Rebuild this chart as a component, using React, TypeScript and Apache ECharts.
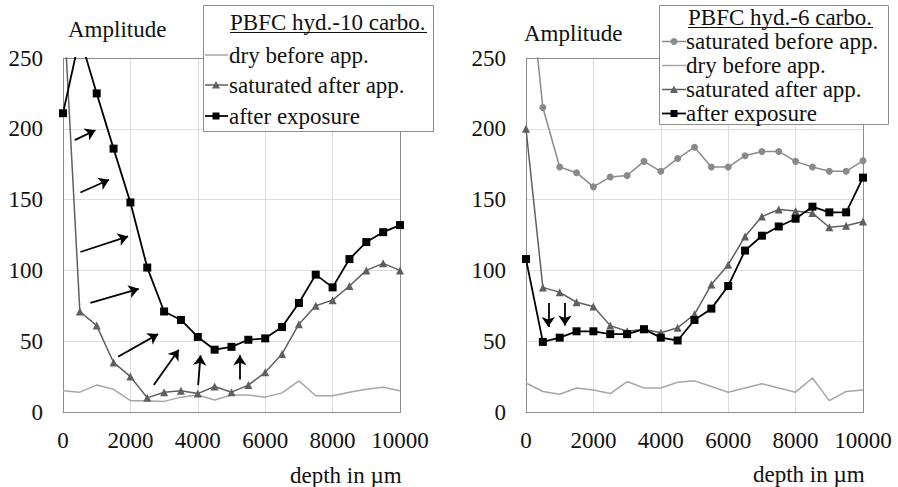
import React, { useEffect, useRef } from "react";
import * as echarts from "echarts";

const depths = [0, 500, 1000, 1500, 2000, 2500, 3000, 3500, 4000, 4500, 5000, 5500, 6000, 6500, 7000, 7500, 8000, 8500, 9000, 9500, 10000];
const yTicks = [0, 50, 100, 150, 200, 250];
const xTicks = [0, 2000, 4000, 6000, 8000, 10000];

// Left panel: PBFC hyd.-10 carbo.
const leftTitle = "PBFC hyd.-10 carbo.";
const leftDry = [15, 14, 19, 16, 8, 8, 7.5, 10.5, 12, 8.5, 12, 12, 10.5, 13.5, 22, 11.5, 11.5, 14, 16, 17.5, 15];
const leftSatAfter = [295, 71, 61, 35, 25, 10, 14, 15, 13, 18, 14, 19, 28, 41, 62, 75, 79, 89, 100, 105, 100];
const leftAfterExp = [211, 265, 225, 186, 148, 102, 71, 65, 53, 44, 46, 51, 52, 60, 77, 97, 88, 108, 120, 127, 132];
const leftArrows = [
  [[347, 192], [962, 199]],
  [[517, 155], [1366, 164]],
  [[517, 113], [1931, 124]],
  [[814, 77], [2248, 87]],
  [[1634, 39], [2822, 55]],
  [[2694, 19], [3436, 44]],
  [[4010, 19], [4081, 40]],
  [[5248, 23], [5248, 40]],
];

// Right panel: PBFC hyd.-6 carbo.
const rightTitle = "PBFC hyd.-6 carbo.";
const rightSatBefore = [330, 215, 173, 169, 159, 166, 167, 177, 170, 179, 187, 173, 173, 181, 184, 184, 177, 173, 170, 170, 177.5];
const rightDry = [20.5, 14.5, 12.5, 17, 15.5, 13, 21.5, 17, 17, 21, 22, 18, 14, 17, 20, 17, 14, 24, 8, 14.5, 15.5];
const rightSatAfter = [200, 88, 84.5, 77.5, 74.5, 61, 57, 58.5, 56, 59.5, 69, 90, 104, 124, 138, 143, 142, 140.5, 130.5, 131.5, 134.5];
const rightAfterExp = [108, 49.5, 52.5, 57, 57, 55, 55, 58.5, 52.5, 50.5, 65, 73, 89, 114, 124.5, 131, 136.5, 145, 141, 141, 165.5];
const rightArrows = [
  [[661, 77], [661, 60]],
  [[1156, 77], [1156, 61]],
];

const FONT = "Liberation Serif, serif";
const FS = 23;
const TXT = "#111";
const C_DRY = "#a6a6a6";
const C_SAT_AFTER = "#5f5f5f";
const C_SAT_BEFORE = "#8a8a8a";
const C_EXP = "#000";
const BORDER = "#8c8c8c";
const GRIDC = "#dcdcdc";
const Y_MAX = 250;

const pair = (vals: number[]) => depths.map((d, i) => [d, vals[i]]);
const inRange = (vals: number[]) => depths.map((d, i) => [d, vals[i] <= Y_MAX ? vals[i] : null]);

function App() {
  const ref = useRef<HTMLDivElement>(null);
  useEffect(() => {
    if (!ref.current) return;
    const chart = echarts.init(ref.current, null, { renderer: "svg" });

    const grids = [
      { left: 63, top: 58, width: 337, height: 354 },
      { left: 526, top: 58, width: 337, height: 354 },
    ];

    const mkX = (gi: number) => ({
      type: "value",
      gridIndex: gi,
      min: 0,
      max: 10000,
      interval: 2000,
      axisLine: { show: true, lineStyle: { color: BORDER, width: 1 } },
      axisTick: { show: false },
      axisLabel: {
        margin: 17,
        fontSize: FS,
        fontFamily: FONT,
        color: TXT,
        formatter: (v: number) => (xTicks.includes(v) ? String(v) : ""),
      },
      splitLine: { show: true, showMinLine: false, showMaxLine: false, lineStyle: { color: GRIDC, width: 1 } },
    });
    const mkY = (gi: number) => ({
      type: "value",
      gridIndex: gi,
      min: 0,
      max: Y_MAX,
      interval: 50,
      axisLine: { show: true, lineStyle: { color: BORDER, width: 1 } },
      axisTick: { show: false },
      axisLabel: {
        margin: 20,
        fontSize: FS,
        fontFamily: FONT,
        color: TXT,
        formatter: (v: number) => (yTicks.includes(v) ? String(v) : ""),
      },
      splitLine: { show: true, showMinLine: false, showMaxLine: false, lineStyle: { color: GRIDC, width: 1 } },
    });

    // line drawn clipped to the plot
    const line = (name: string, gi: number, vals: number[], color: string, width: number, extra: any = {}) => ({
      name,
      type: "line",
      xAxisIndex: gi,
      yAxisIndex: gi,
      data: pair(vals),
      clip: true,
      symbol: "none",
      showSymbol: false,
      lineStyle: { color, width },
      silent: true,
      z: 3,
      ...extra,
    });
    // markers for in-range points, not clipped at the frame edge
    const marks = (name: string, gi: number, vals: number[], color: string, symbol: string, size: number) => ({
      name,
      type: "scatter",
      xAxisIndex: gi,
      yAxisIndex: gi,
      data: inRange(vals),
      clip: false,
      symbol,
      symbolSize: size,
      itemStyle: { color, opacity: 1 },
      silent: true,
      z: 4,
    });

    const arrowMark = (arrows: number[][][]) => ({
      silent: true,
      symbol: ["none", "arrow"],
      symbolSize: 10,
      label: { show: false },
      lineStyle: { color: "#000", width: 1.8, type: "solid" },
      data: arrows.map(([a, b]) => [{ coord: a }, { coord: b }]),
    });

    // text placed by its vertical centre cy (top-anchored box)
    const t = (text: string, x: number, cy: number) => ({
      type: "text",
      x,
      y: cy - FS / 2,
      z: 100,
      style: {
        text,
        fill: TXT,
        fontSize: FS,
        fontFamily: FONT,
      },
    });

    const symLine = (x1: number, x2: number, y: number, color: string, width: number) => ({
      type: "line",
      z: 100,
      shape: { x1, y1: y, x2, y2: y },
      style: { stroke: color, lineWidth: width },
    });
    const tri = (cx: number, cy: number, color: string) => ({
      type: "polygon",
      z: 101,
      shape: { points: [[cx - 4, cy + 3.5], [cx + 4, cy + 3.5], [cx, cy - 4]] },
      style: { fill: color },
    });
    const sq = (cx: number, cy: number, color: string) => ({
      type: "rect",
      z: 101,
      shape: { x: cx - 3.5, y: cy - 3.5, width: 7, height: 7 },
      style: { fill: color },
    });
    const circ = (cx: number, cy: number, color: string) => ({
      type: "circle",
      z: 101,
      shape: { cx, cy, r: 3.5 },
      style: { fill: color },
    });

    const graphic: any[] = [
      // frame borders
      { type: "rect", z: 1, silent: true, shape: { x: 63.5, y: 58.5, width: 337, height: 354 }, style: { fill: "none", stroke: BORDER, lineWidth: 1 } },
      { type: "rect", z: 1, silent: true, shape: { x: 526.5, y: 58.5, width: 337, height: 354 }, style: { fill: "none", stroke: BORDER, lineWidth: 1 } },
      // axis names
      t("Amplitude", 68, 29),
      t("Amplitude", 524, 33),
      t("depth in \u00b5m", 290, 475),
      t("depth in \u00b5m", 753, 474),
      // left legend
      { type: "rect", z: 99, shape: { x: 203.5, y: 5.5, width: 230, height: 126 }, style: { fill: "#fff", stroke: BORDER, lineWidth: 1 } },
      t(leftTitle, 230, 22),
      { type: "line", z: 100, shape: { x1: 230, y1: 32.5, x2: 427, y2: 32.5 }, style: { stroke: TXT, lineWidth: 1 } },
      symLine(205, 228, 55, C_DRY, 1.5),
      t("dry before app.", 229, 55),
      symLine(205, 228, 85, C_SAT_AFTER, 1.5),
      tri(216, 85, C_SAT_AFTER),
      t("saturated after app.", 229, 85),
      symLine(205, 228, 116, C_EXP, 1.8),
      sq(216, 116, C_EXP),
      t("after exposure", 229, 116),
      // right legend
      { type: "rect", z: 99, shape: { x: 659.5, y: 5.5, width: 229, height: 119 }, style: { fill: "#fff", stroke: BORDER, lineWidth: 1 } },
      t(rightTitle, 688, 17),
      { type: "line", z: 100, shape: { x1: 688, y1: 27.5, x2: 873, y2: 27.5 }, style: { stroke: TXT, lineWidth: 1 } },
      symLine(662, 686, 41.5, C_SAT_BEFORE, 1.5),
      circ(674, 41.5, C_SAT_BEFORE),
      t("saturated before app.", 686, 41.5),
      symLine(662, 686, 65.5, C_DRY, 1.5),
      t("dry before app.", 686, 65.5),
      symLine(662, 686, 89.5, C_SAT_AFTER, 1.5),
      tri(674, 89.5, C_SAT_AFTER),
      t("saturated after app.", 686, 89.5),
      symLine(662, 686, 113.5, C_EXP, 1.8),
      sq(674, 113.5, C_EXP),
      t("after exposure", 686, 113.5),
    ];

    chart.setOption({
      animation: false,
      backgroundColor: "#fff",
      textStyle: { fontFamily: FONT },
      grid: grids.map((g) => ({ ...g, show: false, containLabel: false })),
      xAxis: [mkX(0), mkX(1)],
      yAxis: [mkY(0), mkY(1)],
      series: [
        line("dry before app.", 0, leftDry, C_DRY, 1.5),
        line("saturated after app.", 0, leftSatAfter, C_SAT_AFTER, 1.5),
        marks("saturated after app.", 0, leftSatAfter, C_SAT_AFTER, "triangle", 8),
        line("after exposure", 0, leftAfterExp, C_EXP, 1.8, { markLine: arrowMark(leftArrows) }),
        marks("after exposure", 0, leftAfterExp, C_EXP, "rect", 8),
        line("saturated before app.", 1, rightSatBefore, C_SAT_BEFORE, 1.5),
        marks("saturated before app.", 1, rightSatBefore, C_SAT_BEFORE, "circle", 7),
        line("dry before app.", 1, rightDry, C_DRY, 1.5),
        line("saturated after app.", 1, rightSatAfter, C_SAT_AFTER, 1.5),
        marks("saturated after app.", 1, rightSatAfter, C_SAT_AFTER, "triangle", 8),
        line("after exposure", 1, rightAfterExp, C_EXP, 1.8, { markLine: arrowMark(rightArrows) }),
        marks("after exposure", 1, rightAfterExp, C_EXP, "rect", 8),
      ],
      graphic,
    });
    return () => chart.dispose();
  }, []);
  return <div ref={ref} style={{ position: "fixed", left: 0, top: 0, width: 898, height: 487 }} />;
}

export default App;
